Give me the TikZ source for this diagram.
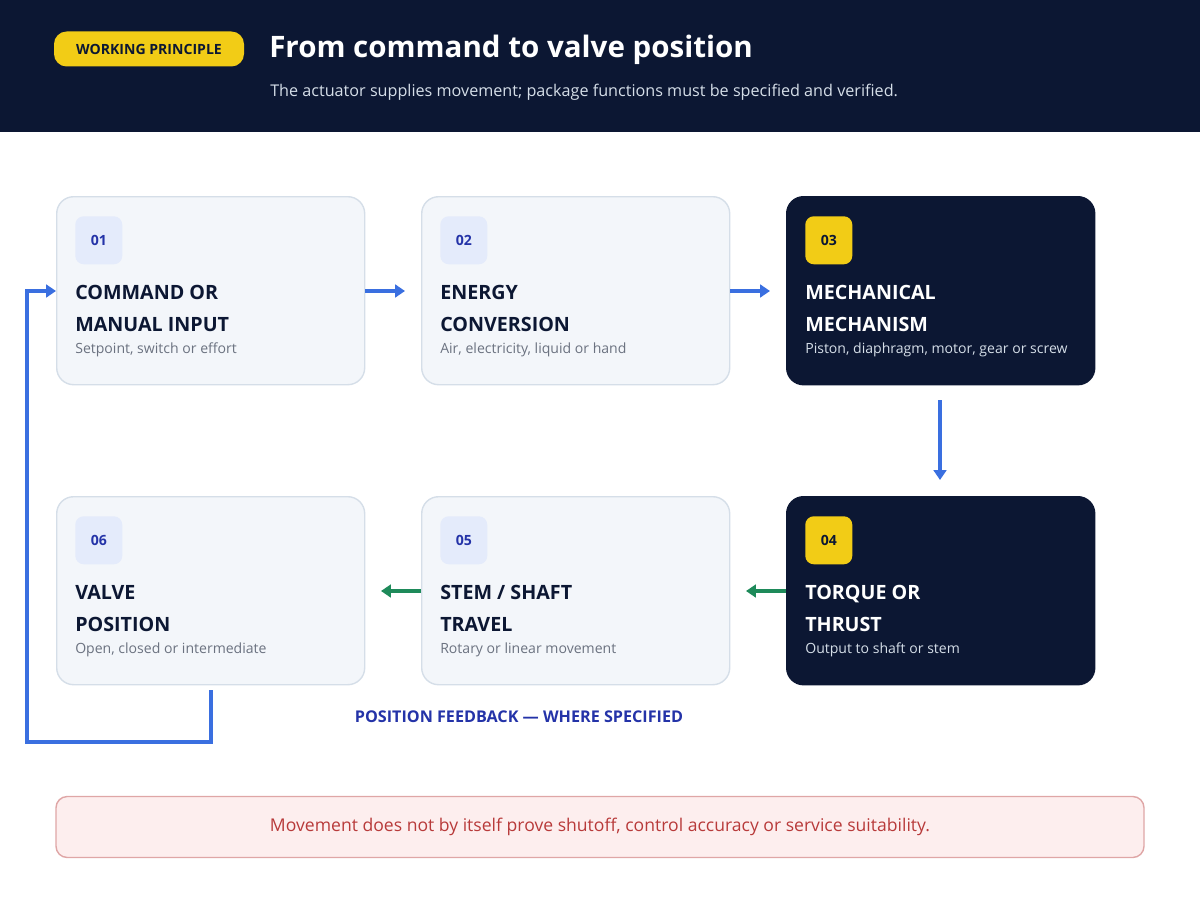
\documentclass[tikz,border=0pt]{standalone}
\usepackage{fontspec}
\setmainfont{Open Sans}
\usetikzlibrary{positioning,arrows.meta}
\definecolor{navy}{HTML}{0C1733}
\definecolor{gold}{HTML}{F2CC16}
\definecolor{paper}{HTML}{F3F6FA}
\definecolor{rim}{HTML}{D5DEE8}
\definecolor{chip}{HTML}{E4EBFB}
\definecolor{ink}{HTML}{2433A8}
\definecolor{flow}{HTML}{3A6FE0}
\definecolor{back}{HTML}{1E8A5A}
\definecolor{muted}{HTML}{6B7280}
\definecolor{pale}{HTML}{FDEEEE}
\definecolor{alert}{HTML}{B83A3A}
\tikzset{
  stage/.style={rectangle,rounded corners=12pt,draw=rim,line width=1pt,fill=paper,
    minimum width=308*0.025cm,minimum height=188*0.025cm,anchor=north west},
  darkstage/.style={stage,draw=navy,fill=navy},
  num/.style={rectangle,rounded corners=6pt,fill=chip,text=ink,font=\bfseries\fontsize{10}{12}\selectfont,
    minimum width=47*0.025cm,minimum height=48*0.025cm,anchor=north west},
  darknum/.style={num,fill=gold,text=navy},
  head/.style={anchor=north west,align=left,text=navy,font=\bfseries\fontsize{14}{22.5}\selectfont,inner sep=0pt},
  sub/.style={anchor=west,text=muted,font=\fontsize{10}{12}\selectfont,inner sep=0pt},
  go/.style={-{Triangle[length=7pt,width=9pt]},flow,line width=2.5pt},
  ret/.style={-{Triangle[length=7pt,width=9pt]},back,line width=2.5pt}
}
\begin{document}
\begin{tikzpicture}[x=0.025cm,y=-0.025cm]
  \useasboundingbox (0,0) rectangle (1200,900);
  % header
  \fill[navy] (0,0) rectangle (1200,132);
  \node[rectangle,rounded corners=9pt,fill=gold,text=navy,minimum width=190*0.025cm,minimum height=35*0.025cm,
    font=\bfseries\fontsize{10}{12}\selectfont] (badge) at (149,49) {WORKING PRINCIPLE};
  \node[anchor=west,text=white,font=\bfseries\fontsize{21}{24}\selectfont,inner sep=0pt] (title) at (269,50) {From command to valve position};
  \node[anchor=west,text=rim,font=\fontsize{11.5}{14}\selectfont,inner sep=0pt] (lead) at (270,92) {The actuator supplies movement; package functions must be specified and verified.};
  % stages
  \foreach \n/\x/\y/\s/\a/\b/\c in {
      01/56/196/stage/COMMAND OR/MANUAL INPUT/{Setpoint, switch or effort},
      02/421/196/stage/ENERGY/CONVERSION/{Air, electricity, liquid or hand},
      03/786/196/darkstage/MECHANICAL/MECHANISM/{Piston, diaphragm, motor, gear or screw},
      04/786/496/darkstage/TORQUE OR/THRUST/{Output to shaft or stem},
      05/421/496/stage/{STEM / SHAFT}/TRAVEL/{Rotary or linear movement},
      06/56/496/stage/VALVE/POSITION/{Open, closed or intermediate}} {
    \node[\s] (box\n) at (\x,\y) {};
    \ifnum\n=3 \def\k{darknum}\def\t{white}\def\u{rim}\else\ifnum\n=4 \def\k{darknum}\def\t{white}\def\u{rim}\else\def\k{num}\def\t{navy}\def\u{muted}\fi\fi
    \node[\k] (num\n) at (\x+19,\y+20) {\n};
    \node[head,text=\t] (head\n) at (\x+19,\y+89) {\a\\\b};
    \node[sub,text=\u] (sub\n) at (\x+19,\y+154) {\c};
  }
  % flow
  \draw[go] (box01.east |- 0,291) -- (405,291);
  \draw[go] (box02.east |- 0,291) -- (770,291);
  \draw[go] (940,400) -- (940,480);
  \draw[ret] (box04.west |- 0,591) -- (746,591);
  \draw[ret] (box05.west |- 0,591) -- (381,591);
  \coordinate (fb) at (211,742);
  \draw[go] (211,690) -- (fb) -| (27,291) -- (box01.west |- 0,291);
  \node[text=ink,font=\bfseries\fontsize{11.5}{13}\selectfont] (fblabel) at (519,717) {POSITION FEEDBACK — WHERE SPECIFIED};
  % note
  \node[rectangle,rounded corners=8pt,draw=alert!45,line width=1pt,fill=pale,text=alert,
    minimum width=1088*0.025cm,minimum height=61*0.025cm,font=\fontsize{12.5}{14}\selectfont] (note) at (600,827)
    {Movement does not by itself prove shutoff, control accuracy or service suitability.};
\end{tikzpicture}
\end{document}
